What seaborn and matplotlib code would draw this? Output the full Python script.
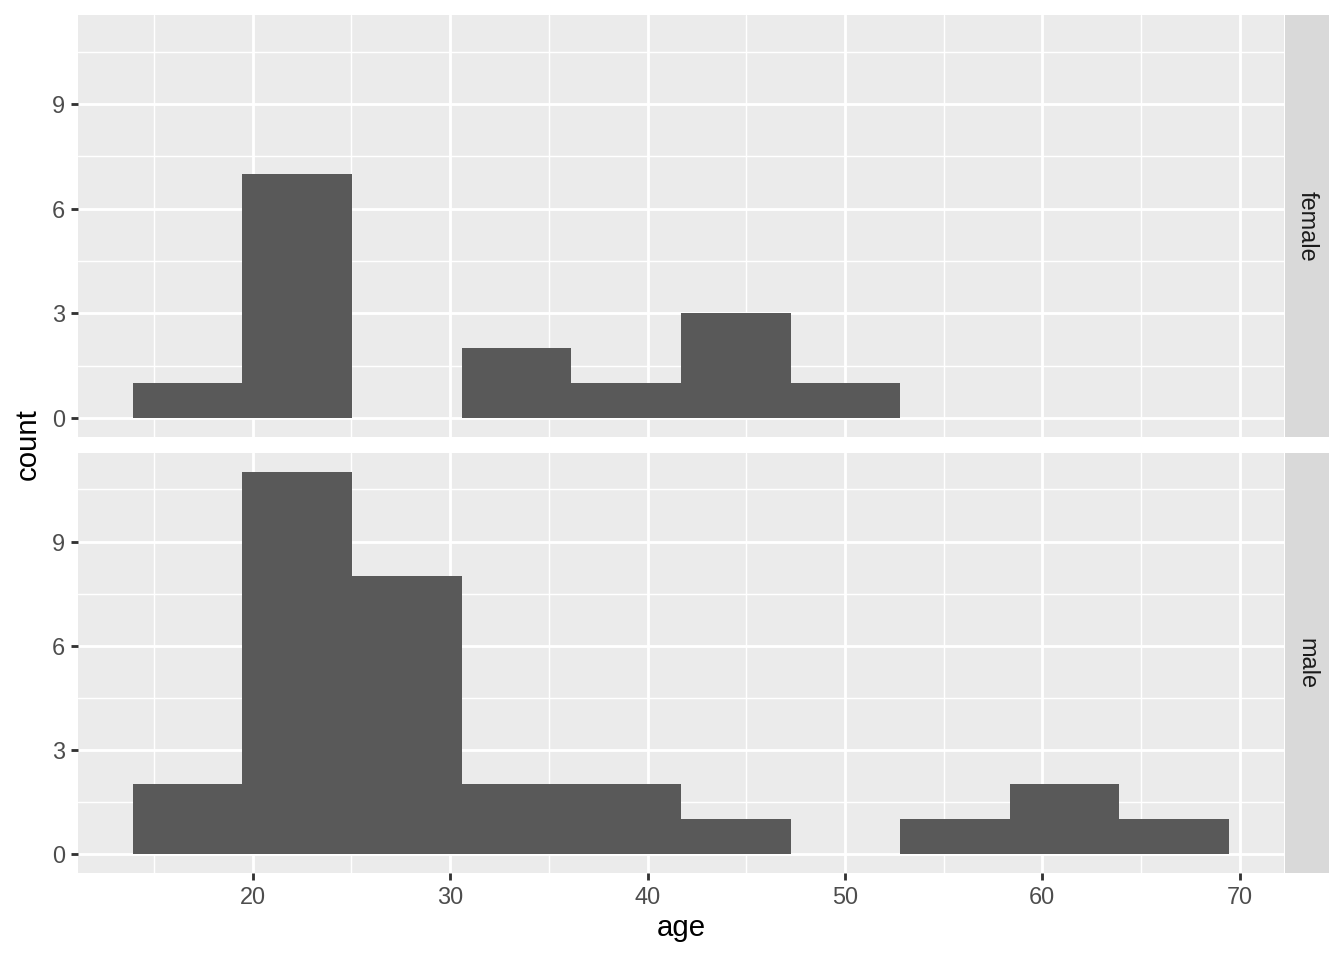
import numpy as np
import pandas as pd
import matplotlib
matplotlib.use("Agg")
import matplotlib.pyplot as plt
import seaborn as sns

# histogram bins (age), 10 bins
bin_edges = [13.92, 19.47, 25.03, 30.58, 36.14, 41.69, 47.25, 52.80, 58.36, 63.91, 69.47]
female_counts = [1, 7, 0, 2, 1, 3, 1, 0, 0, 0]
male_counts = [2, 11, 8, 2, 2, 1, 0, 1, 2, 1]
panels = ["female", "male"]
x_ticks = [20, 30, 40, 50, 60, 70]
y_ticks = [0, 3, 6, 9]

centers = [(a + b) / 2 for a, b in zip(bin_edges[:-1], bin_edges[1:])]
df = pd.DataFrame({
    "age": centers * 2,
    "count": female_counts + male_counts,
    "sex": ["female"] * len(centers) + ["male"] * len(centers),
})

sns.set_theme(style="darkgrid")
plt.rcParams["font.family"] = ["Liberation Sans", "DejaVu Sans"]

BG = "#EBEBEB"
GRID_LW = 1.07

fig = plt.figure(figsize=(7, 5), dpi=192)
left, right = 78 / 1344, 1284 / 1344
strip_l, strip_r = 1285 / 1344, 1329 / 1344
boxes = [(15, 437), (453, 873)]

span = bin_edges[-1] - bin_edges[0]
xlim = (bin_edges[0] - 0.05 * span, bin_edges[-1] + 0.05 * span)
ymax = max(male_counts + female_counts)
ylim = (-0.05 * ymax, ymax * 1.05)

axes = []
for i, (sex, (top, bot)) in enumerate(zip(panels, boxes)):
    b = 1 - bot / 960
    h = (bot - top) / 960
    ax = fig.add_axes([left, b, right - left, h])
    sub = df[df["sex"] == sex]
    sns.histplot(data=sub, x="age", weights="count", bins=bin_edges,
                 color="#595959", alpha=1, linewidth=0, ax=ax, zorder=3)
    ax.set_facecolor(BG)
    ax.set_xlim(xlim)
    ax.set_ylim(ylim)
    ax.set_xticks(x_ticks)
    ax.set_yticks(y_ticks)
    ax.set_xticks([15, 25, 35, 45, 55, 65], minor=True)
    ax.set_yticks([1.5, 4.5, 7.5, 10.5], minor=True)
    ax.grid(which="major", color="white", linewidth=GRID_LW)
    ax.grid(which="minor", color="white", linewidth=GRID_LW / 2)
    ax.set_axisbelow(True)
    for s in ax.spines.values():
        s.set_visible(False)
    ax.tick_params(which="major", length=2.75, width=GRID_LW, color="#333333",
                   labelsize=8.8, labelcolor="#4D4D4D", pad=2.2,
                   bottom=(i == 1), left=True)
    ax.tick_params(which="minor", length=0)
    ax.set_xlabel("")
    ax.set_ylabel("")
    if i == 0:
        ax.tick_params(axis="x", labelbottom=False)

    sax = fig.add_axes([strip_l, b, strip_r - strip_l, h])
    sax.set_facecolor("#D9D9D9")
    sax.set_xticks([])
    sax.set_yticks([])
    for s in sax.spines.values():
        s.set_visible(False)
    sax.text(0.5, 0.5, sex, rotation=270, ha="center", va="center",
             fontsize=8.8, color="#1A1A1A", transform=sax.transAxes)
    axes.append(ax)

fig.text((left + right) / 2, 1 - 928 / 960, "age", ha="center", va="center",
         fontsize=11, color="black")
fig.text(28 / 1344, 1 - 444 / 960, "count", ha="center", va="center",
         rotation=90, fontsize=11, color="black")

fig.savefig("out.png", dpi=192, facecolor="white")
